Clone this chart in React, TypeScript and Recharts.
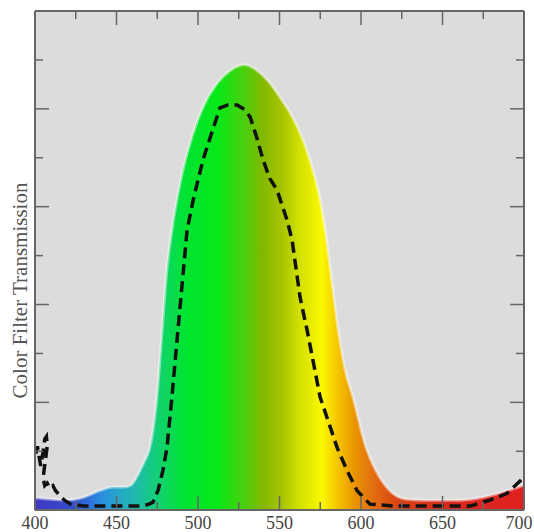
import React from "react";
import { ComposedChart, Area, Line, XAxis, YAxis, CartesianGrid, Label } from "recharts";

// Green colour filter transmission curve (wavelength in nm, transmission 0..1)
const FILTER_NM = [
  400, 410, 420, 430, 440, 448, 455, 458.5, 461.5, 464.5, 467.5, 470.5, 474.8, 478, 481, 484, 489, 497,
  504, 511.7, 520, 528.5, 536, 544, 551, 558, 568.7, 575, 578, 582, 586, 590, 595, 603, 609, 617.5, 628,
  640, 660, 670, 680, 690, 700,
];
const FILTER_T = [
  0.005, 0.002, 0.0, 0.006, 0.02, 0.027, 0.027, 0.03, 0.042, 0.061, 0.082, 0.108, 0.211, 0.348, 0.475, 0.552,
  0.648, 0.75, 0.81, 0.852, 0.879, 0.89, 0.879, 0.853, 0.82, 0.783, 0.695, 0.613, 0.552, 0.45, 0.348, 0.27,
  0.211, 0.108, 0.061, 0.02, 0.002, 0.0, 0.0, 0.003, 0.01, 0.02, 0.031,
];

// Measured response (dashed)
const MEASURED_NM = [
  400.5, 401.5, 402.5, 403.5, 405, 406, 407, 407.5, 406.5, 405.5, 405, 406, 407.5, 409, 411, 412.5, 415, 418,
  422, 430, 450, 466, 470, 472.4, 475.5, 478.5, 481, 484, 487.7, 490.5, 493.3, 497, 503, 509, 513.5, 518.4,
  524, 528.8, 532, 536, 540, 544, 548.5, 554.6, 557.7, 562.6, 566.9, 574.9, 585.3, 591.4, 597.5, 605.5, 620,
  667, 679, 689.6, 699.4, 700,
];
const MEASURED_T = [
  0.095, 0.11, 0.09, 0.07, 0.1, 0.125, 0.13, 0.11, 0.085, 0.06, 0.045, 0.03, 0.035, 0.025, 0.03, 0.02, 0.01, 0.0,
  -0.008, -0.012, -0.012, -0.012, -0.008, -0.004, 0.02, 0.061, 0.108, 0.211, 0.348, 0.45, 0.552, 0.613, 0.695,
  0.757, 0.802, 0.808, 0.808, 0.798, 0.783, 0.742, 0.695, 0.658, 0.634, 0.573, 0.532, 0.415, 0.348, 0.211, 0.108,
  0.061, 0.02, -0.008, -0.012, -0.012, 0.0, 0.014, 0.045, 0.048,
];

// Axis ticks
const X_TICKS = [400, 425, 450, 475, 500, 525, 550, 575, 600, 625, 650, 675, 700];
const X_LABELED = [400, 450, 500, 550, 600, 650, 700];
const Y_TICKS = [0.1, 0.2, 0.3, 0.4, 0.5, 0.6, 0.7, 0.8, 0.9];
const Y_MAJOR = [0.2, 0.4, 0.6, 0.8];

// Spectrum colours used to tint the filter curve
const SPECTRUM_NM = [400, 425, 440, 452, 465, 478, 492, 512, 528, 540, 552, 562, 576, 586, 596, 607, 622, 650, 700];
const SPECTRUM_COLOR = [
  "#4436c4", "#3050cc", "#2a8ce0", "#24a8c8", "#1cc0a0", "#10d468", "#00e432", "#08e818", "#48d00c",
  "#84b800", "#a8c600", "#d2e000", "#fbf800", "#f4c400", "#ea9400", "#e27010", "#da4414", "#d82a1c", "#e02020",
];

const filterData = FILTER_NM.map((nm, i) => ({ nm, t: FILTER_T[i] }));
const measuredData = MEASURED_NM.map((nm, i) => ({ nm, t: MEASURED_T[i] }));

const Y_MIN = -0.02;
const Y_MAX = 1.0;
const AXIS = "#666";
const SERIF = "'Liberation Serif', 'Times New Roman', serif";
const CHART_W = 534;

// Tick marks point into the plot; positions come from the axis scale
const BottomTick = (props: any) => {
  const { x, y, payload } = props;
  const v = payload.value;
  const major = X_LABELED.includes(v);
  // keep the last label inside the canvas
  const labelX = Math.min(x, CHART_W - 15);
  return (
    <g>
      <line x1={x} x2={x} y1={y} y2={y - (major ? 14 : 8)} stroke={AXIS} strokeWidth={1.5} />
      {major && (
        <text x={labelX} y={y + 19} textAnchor="middle" fontFamily={SERIF} fontSize={18} fill="#444">
          {v}
        </text>
      )}
    </g>
  );
};

const TopTick = (props: any) => {
  const { x, y, payload } = props;
  const major = X_LABELED.includes(payload.value);
  return <line x1={x} x2={x} y1={y} y2={y + (major ? 14 : 8)} stroke={AXIS} strokeWidth={1.5} />;
};

const LeftTick = (props: any) => {
  const { x, y, payload } = props;
  const major = Y_MAJOR.includes(payload.value);
  return <line x1={x} x2={x + (major ? 14 : 8)} y1={y} y2={y} stroke={AXIS} strokeWidth={1.5} />;
};

const RightTick = (props: any) => {
  const { x, y, payload } = props;
  const major = Y_MAJOR.includes(payload.value);
  return <line x1={x} x2={x - (major ? 14 : 8)} y1={y} y2={y} stroke={AXIS} strokeWidth={1.5} />;
};

const YTitle = (props: any) => {
  const vb = props.viewBox || {};
  const cx = 20;
  const cy = (vb.y ?? 11) + (vb.height ?? 499) / 2 + 30;
  return (
    <text
      x={cx}
      y={cy}
      transform={`rotate(-90, ${cx}, ${cy})`}
      textAnchor="middle"
      dominantBaseline="central"
      fontFamily={SERIF}
      fontSize={21}
      fill="#555"
    >
      Color Filter Transmission
    </text>
  );
};

export default function App() {
  return (
    <div style={{ position: "absolute", left: 0, top: 0, width: CHART_W, height: 532, background: "#fff" }}>
      <ComposedChart width={CHART_W} height={532} margin={{ top: 10, right: 9, bottom: 0, left: 0 }}>
        <defs>
          <linearGradient id="spectrumFill" x1="0" y1="0" x2="1" y2="0">
            {SPECTRUM_NM.map((nm, i) => (
              <stop key={nm} offset={`${((nm - 400) / 300) * 100}%`} stopColor={SPECTRUM_COLOR[i]} />
            ))}
          </linearGradient>
        </defs>
        <CartesianGrid fill="#dcdcdc" horizontal={false} vertical={false} stroke="none" />
        <Area
          data={filterData}
          dataKey="t"
          type="monotone"
          baseValue={Y_MIN}
          fill="url(#spectrumFill)"
          fillOpacity={1}
          stroke="rgba(255,255,255,0.45)"
          strokeWidth={3}
          isAnimationActive={false}
          dot={false}
          activeDot={false}
        />
        <Line
          data={measuredData}
          dataKey="t"
          type="linear"
          stroke="#111"
          strokeWidth={3.5}
          strokeDasharray="11 6"
          dot={false}
          activeDot={false}
          isAnimationActive={false}
        />
        <XAxis
          dataKey="nm"
          type="number"
          domain={[400, 700]}
          ticks={X_TICKS}
          allowDataOverflow
          height={22}
          tickSize={0}
          tickMargin={0}
          tick={<BottomTick />}
          tickLine={false}
          axisLine={{ stroke: AXIS, strokeWidth: 2 }}
          interval={0}
        />
        <XAxis
          xAxisId="top"
          orientation="top"
          dataKey="nm"
          type="number"
          domain={[400, 700]}
          ticks={X_TICKS}
          allowDataOverflow
          height={1}
          tickSize={0}
          tickMargin={0}
          tick={<TopTick />}
          tickLine={false}
          axisLine={{ stroke: AXIS, strokeWidth: 2 }}
          interval={0}
        />
        <YAxis
          type="number"
          domain={[Y_MIN, Y_MAX]}
          ticks={Y_TICKS}
          allowDataOverflow
          width={35}
          tickSize={0}
          tickMargin={0}
          tick={<LeftTick />}
          tickLine={false}
          axisLine={{ stroke: AXIS, strokeWidth: 2 }}
          interval={0}
        >
          <Label content={<YTitle />} />
        </YAxis>
        <YAxis
          yAxisId="right"
          orientation="right"
          type="number"
          domain={[Y_MIN, Y_MAX]}
          ticks={Y_TICKS}
          allowDataOverflow
          width={1}
          tickSize={0}
          tickMargin={0}
          tick={<RightTick />}
          tickLine={false}
          axisLine={{ stroke: AXIS, strokeWidth: 2 }}
          interval={0}
        />
      </ComposedChart>
    </div>
  );
}
